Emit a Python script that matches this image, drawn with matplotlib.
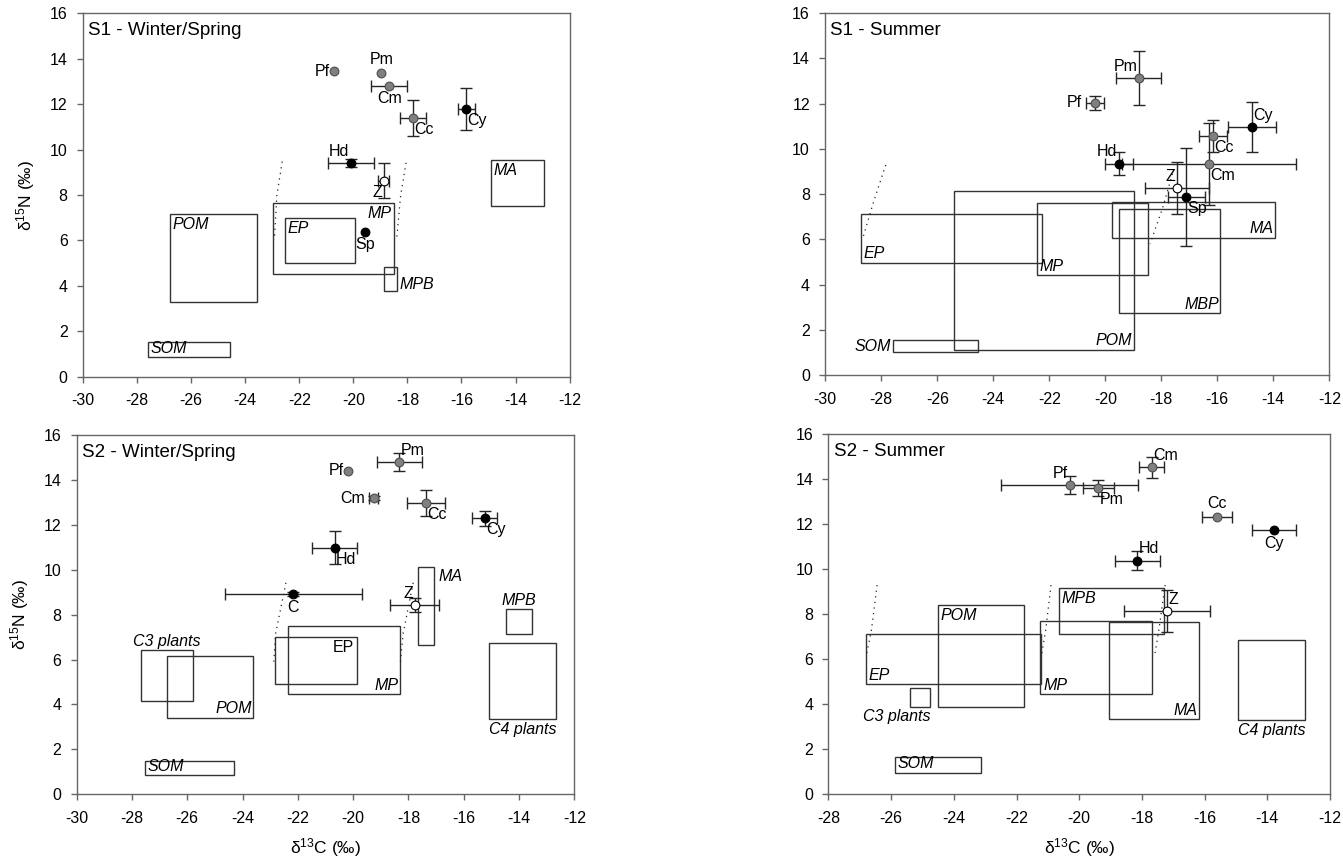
import matplotlib.pyplot as plt

# stable isotope biplots, 4 panels (site x season)

plt.rcParams['font.family'] = ['Liberation Sans', 'DejaVu Sans']
plt.rcParams['mathtext.fontset'] = 'custom'
plt.rcParams['mathtext.rm'] = 'Liberation Sans'
plt.rcParams['mathtext.it'] = 'Liberation Sans:italic'
plt.rcParams['axes.unicode_minus'] = False

# ---- S1 winter/spring ----
s1w_names = ['Pf', 'Pm', 'Cm', 'Cc', 'Cy', 'Hd', 'Z', 'Sp']
s1w_x = [-20.72, -18.96, -18.67, -17.79, -15.82, -20.09, -18.87, -19.58]
s1w_y = [13.45, 13.38, 12.82, 11.39, 11.80, 9.41, 8.62, 6.39]
s1w_xerr = [0, 0, 0.66, 0.48, 0.31, 0.84, 0.20, 0]
s1w_yerr = [0, 0, 0, 0.78, 0.92, 0.18, 0.77, 0]
s1w_kind = ['g', 'g', 'g', 'g', 'k', 'k', 'w', 'k']
s1w_src = ['POM', 'MP', 'EP', 'MPB', 'MA', 'SOM']
s1w_src_x0 = [-26.78, -22.98, -22.53, -18.86, -14.92, -27.60]
s1w_src_x1 = [-23.56, -18.50, -19.95, -18.38, -12.93, -24.55]
s1w_src_y0 = [3.30, 4.54, 5.01, 3.79, 7.51, 0.85]
s1w_src_y1 = [7.16, 7.63, 7.00, 4.83, 9.53, 1.55]
s1w_dots_x = [[-22.63, -22.83, -22.92], [-18.05, -18.25, -18.40]]
s1w_dots_y = [[9.47, 7.97, 6.02], [9.42, 7.97, 6.02]]

# ---- S1 summer ----
s1s_names = ['Pm', 'Pf', 'Cy', 'Cc', 'Cm', 'Hd', 'Z', 'Sp']
s1s_x = [-18.80, -20.37, -14.76, -16.17, -16.30, -19.52, -17.45, -17.11]
s1s_y = [13.14, 12.03, 10.98, 10.57, 9.33, 9.35, 8.26, 7.87]
s1s_xerr = [0.80, 0.32, 0.86, 0.50, 3.10, 0.50, 1.14, 0.66]
s1s_yerr = [1.20, 0.33, 1.10, 0.69, 1.80, 0.50, 1.15, 2.18]
s1s_kind = ['g', 'g', 'k', 'g', 'g', 'k', 'w', 'k']
s1s_src = ['EP', 'POM', 'MP', 'MA', 'MBP', 'SOM']
s1s_src_x0 = [-28.72, -25.41, -22.45, -19.76, -19.51, -27.59]
s1s_src_x1 = [-22.27, -18.98, -18.47, -13.93, -15.89, -24.55]
s1s_src_y0 = [4.96, 1.11, 4.40, 6.08, 2.74, 1.01]
s1s_src_y1 = [7.10, 8.14, 7.62, 7.67, 7.33, 1.54]
s1s_dots_x = [[-27.84, -28.29, -28.66], [-17.60, -17.95, -18.40]]
s1s_dots_y = [[9.29, 7.60, 6.05], [8.90, 7.40, 5.80]]

# ---- S2 winter/spring ----
s2w_names = ['Pm', 'Pf', 'Cm', 'Cc', 'Cy', 'Hd', 'C', 'Z']
s2w_x = [-18.33, -20.17, -19.26, -17.36, -15.24, -20.67, -22.16, -17.78]
s2w_y = [14.78, 14.40, 13.19, 12.96, 12.29, 10.98, 8.92, 8.42]
s2w_xerr = [0.82, 0, 0.15, 0.68, 0.45, 0.82, 2.47, 0.88]
s2w_yerr = [0.40, 0, 0.10, 0.58, 0.32, 0.73, 0.10, 0.30]
s2w_kind = ['g', 'g', 'g', 'g', 'k', 'k', 'k', 'w']
s2w_src = ['C3 plants', 'POM', 'EP', 'MP', 'MA', 'MPB', 'C4 plants', 'SOM']
s2w_src_x0 = [-27.66, -26.72, -22.83, -22.34, -17.66, -14.49, -15.10, -27.53]
s2w_src_x1 = [-25.80, -23.62, -19.86, -18.30, -17.08, -13.55, -12.67, -24.30]
s2w_src_y0 = [4.17, 3.41, 4.90, 4.45, 6.66, 7.12, 3.34, 0.85]
s2w_src_y1 = [6.43, 6.14, 7.01, 7.51, 10.14, 8.24, 6.74, 1.50]
s2w_dots_x = [[-22.43, -22.80, -22.87], [-17.83, -18.19, -18.29]]
s2w_dots_y = [[9.42, 7.17, 5.91], [9.42, 7.17, 5.91]]

# ---- S2 summer ----
s2s_names = ['Cm', 'Pf', 'Pm', 'Cc', 'Cy', 'Hd', 'Z']
s2s_x = [-17.69, -20.31, -19.39, -15.60, -13.79, -18.15, -17.20]
s2s_y = [14.53, 13.76, 13.60, 12.33, 11.75, 10.39, 8.15]
s2s_xerr = [0.39, 2.20, 0.49, 0.49, 0.71, 0.72, 1.36]
s2s_yerr = [0.48, 0.40, 0.36, 0, 0, 0.41, 0.93]
s2s_kind = ['g', 'g', 'g', 'g', 'k', 'k', 'w']
s2s_src = ['MPB', 'POM', 'EP', 'MP', 'MA', 'C3 plants', 'C4 plants', 'SOM']
s2s_src_x0 = [-20.65, -24.50, -26.81, -21.24, -19.04, -25.39, -14.93, -25.88]
s2s_src_x1 = [-17.31, -21.75, -21.22, -17.69, -16.17, -24.75, -12.79, -23.12]
s2s_src_y0 = [7.11, 3.90, 4.89, 4.46, 3.35, 3.90, 3.30, 0.96]
s2s_src_y1 = [9.16, 8.40, 7.11, 7.72, 7.66, 4.71, 6.84, 1.64]
s2s_dots_x = [[-26.45, -26.63, -26.80], [-20.90, -21.07, -21.21], [-17.26, -17.46, -17.60]]
s2s_dots_y = [[9.30, 7.30, 6.12], [9.30, 7.30, 6.12], [9.30, 7.30, 6.12]]

# label placement (layout only)
s1w_lab = ['l', 'a', 'b', 'lr', 'lr', 'ul', 'll', 'b']
s1w_srclab = ['tl', 'tr', 'tl', 'rb', 'tl', 'bl']
s1s_lab = ['ul', 'l', 'ur', 'lr', 'lr', 'ul', 'ul', 'lr']
s1s_srclab = ['bl', 'br', 'bl', 'br', 'br', 'lc']
s2w_lab = ['ur', 'l', 'l', 'lr', 'lr', 'lr', 'b', 'ul']
s2w_srclab = ['above', 'br', 'tr_up', 'br', 'rt', 'above', 'below', 'bl']
s2s_lab = ['ur', 'ul', 'lr', 'a', 'b', 'ur', 'ur']
s2s_srclab = ['tl', 'tl', 'bl', 'bl', 'br', 'below_r', 'below', 'bl']

LAB = {'l': ((-3, 0), 'right', 'center'), 'r': ((4, 0), 'left', 'center'),
       'a': ((0, 4), 'center', 'bottom'), 'b': ((0, -4), 'center', 'top'),
       'ul': ((-1, 3), 'right', 'bottom'), 'ur': ((1, 3), 'left', 'bottom'),
       'll': ((-1, -3), 'right', 'top'), 'lr': ((1, -3), 'left', 'top')}

KIND = {'g': ('#808080', '#4d4d4d'), 'k': ('black', 'black'), 'w': ('white', 'black')}

FS = 11.5


def draw(ax, title, xmin, names, xs, ys, xerr, yerr, kind, lab,
         src, x0, x1, y0, y1, srclab, dots_x, dots_y):
	# source boxes
	for i in range(len(src)):
		ax.add_patch(plt.Rectangle((x0[i], y0[i]), x1[i]-x0[i], y1[i]-y0[i],
		                           fill=False, ec='#333333', lw=1.0, zorder=2))
		pos = srclab[i]
		style = 'normal' if pos.endswith('_up') else 'italic'
		pos = pos.replace('_up', '')
		cx = (x0[i]+x1[i])/2
		cy = (y0[i]+y1[i])/2
		opts = {'tl': (x0[i], y1[i], (2, -2), 'left', 'top'),
		        'tr': (x1[i], y1[i], (-2, -2), 'right', 'top'),
		        'bl': (x0[i], y0[i], (2, 1), 'left', 'bottom'),
		        'br': (x1[i], y0[i], (-1, 1), 'right', 'bottom'),
		        'rb': (x1[i], y0[i], (2, -1), 'left', 'bottom'),
		        'rt': (x1[i], y1[i], (3, -2), 'left', 'top'),
		        'lc': (x0[i], cy, (-1, 0), 'right', 'center'),
		        'above': (cx, y1[i], (0, 1), 'center', 'bottom'),
		        'below': (cx, y0[i], (0, -2), 'center', 'top'),
		        'below_r': (x1[i], y0[i], (0, -2), 'right', 'top')}
		tx, ty, off, ha, va = opts[pos]
		ax.annotate(src[i], (tx, ty), xytext=off, textcoords='offset points',
		            ha=ha, va=va, fontsize=FS, style=style, zorder=3)
	# dotted mixing lines
	for dx, dy in zip(dots_x, dots_y):
		ax.plot(dx, dy, ls=(0, (1, 3.5)), color='#222222', lw=0.9, zorder=2)
	# consumers
	for i in range(len(names)):
		fc, ec = KIND[kind[i]]
		ax.errorbar(xs[i], ys[i], xerr=xerr[i] or None, yerr=yerr[i] or None,
		            fmt='none', ecolor='#262626', elinewidth=1.0, capsize=4,
		            capthick=1.0, zorder=4)
		ax.plot(xs[i], ys[i], 'o', ms=6.3, mfc=fc, mec=ec, mew=0.8, zorder=5)
		off, ha, va = LAB[lab[i]]
		# labels on the left sit beyond the error bar
		ax_x = xs[i] - xerr[i] if lab[i] == 'l' else xs[i]
		ax.annotate(names[i], (ax_x, ys[i]), xytext=off, textcoords='offset points',
		            ha=ha, va=va, fontsize=FS, zorder=6)

	ax.set_xlim(xmin, -12)
	ax.set_ylim(0, 16)
	ax.set_xticks(range(xmin, -11, 2))
	ax.set_yticks(range(0, 17, 2))
	ax.tick_params(direction='out', length=4, width=1, color='#666666', labelsize=FS)
	ax.tick_params(axis='x', pad=8)
	ax.tick_params(axis='y', pad=7)
	for sp in ax.spines.values():
		sp.set_color('#666666')
		sp.set_linewidth(1.0)
	ax.text(0.01, 0.94, title, transform=ax.transAxes, fontsize=13.5,
	        ha='left', va='baseline')


fig = plt.figure(figsize=(13.43, 8.65), dpi=100)
ax1 = fig.add_axes([0.0618, 0.5645, 0.3623, 0.4201])
ax2 = fig.add_axes([0.6145, 0.5665, 0.3753, 0.4182])
ax3 = fig.add_axes([0.0570, 0.0817, 0.3707, 0.4154])
ax4 = fig.add_axes([0.6169, 0.0817, 0.3734, 0.4162])

draw(ax1, 'S1 - Winter/Spring', -30, s1w_names, s1w_x, s1w_y, s1w_xerr, s1w_yerr,
     s1w_kind, s1w_lab, s1w_src, s1w_src_x0, s1w_src_x1, s1w_src_y0, s1w_src_y1,
     s1w_srclab, s1w_dots_x, s1w_dots_y)
draw(ax2, 'S1 - Summer', -30, s1s_names, s1s_x, s1s_y, s1s_xerr, s1s_yerr,
     s1s_kind, s1s_lab, s1s_src, s1s_src_x0, s1s_src_x1, s1s_src_y0, s1s_src_y1,
     s1s_srclab, s1s_dots_x, s1s_dots_y)
draw(ax3, 'S2 - Winter/Spring', -30, s2w_names, s2w_x, s2w_y, s2w_xerr, s2w_yerr,
     s2w_kind, s2w_lab, s2w_src, s2w_src_x0, s2w_src_x1, s2w_src_y0, s2w_src_y1,
     s2w_srclab, s2w_dots_x, s2w_dots_y)
draw(ax4, 'S2 - Summer', -28, s2s_names, s2s_x, s2s_y, s2s_xerr, s2s_yerr,
     s2s_kind, s2s_lab, s2s_src, s2s_src_x0, s2s_src_x1, s2s_src_y0, s2s_src_y1,
     s2s_srclab, s2s_dots_x, s2s_dots_y)

for ax in (ax1, ax3):
	ax.set_ylabel('δ$^{15}$N (‰)', fontsize=12.5, labelpad=9)
for ax in (ax3, ax4):
	ax.set_xlabel('δ$^{13}$C (‰)', fontsize=12.5, labelpad=7)

fig.savefig('out.png', dpi=100)
